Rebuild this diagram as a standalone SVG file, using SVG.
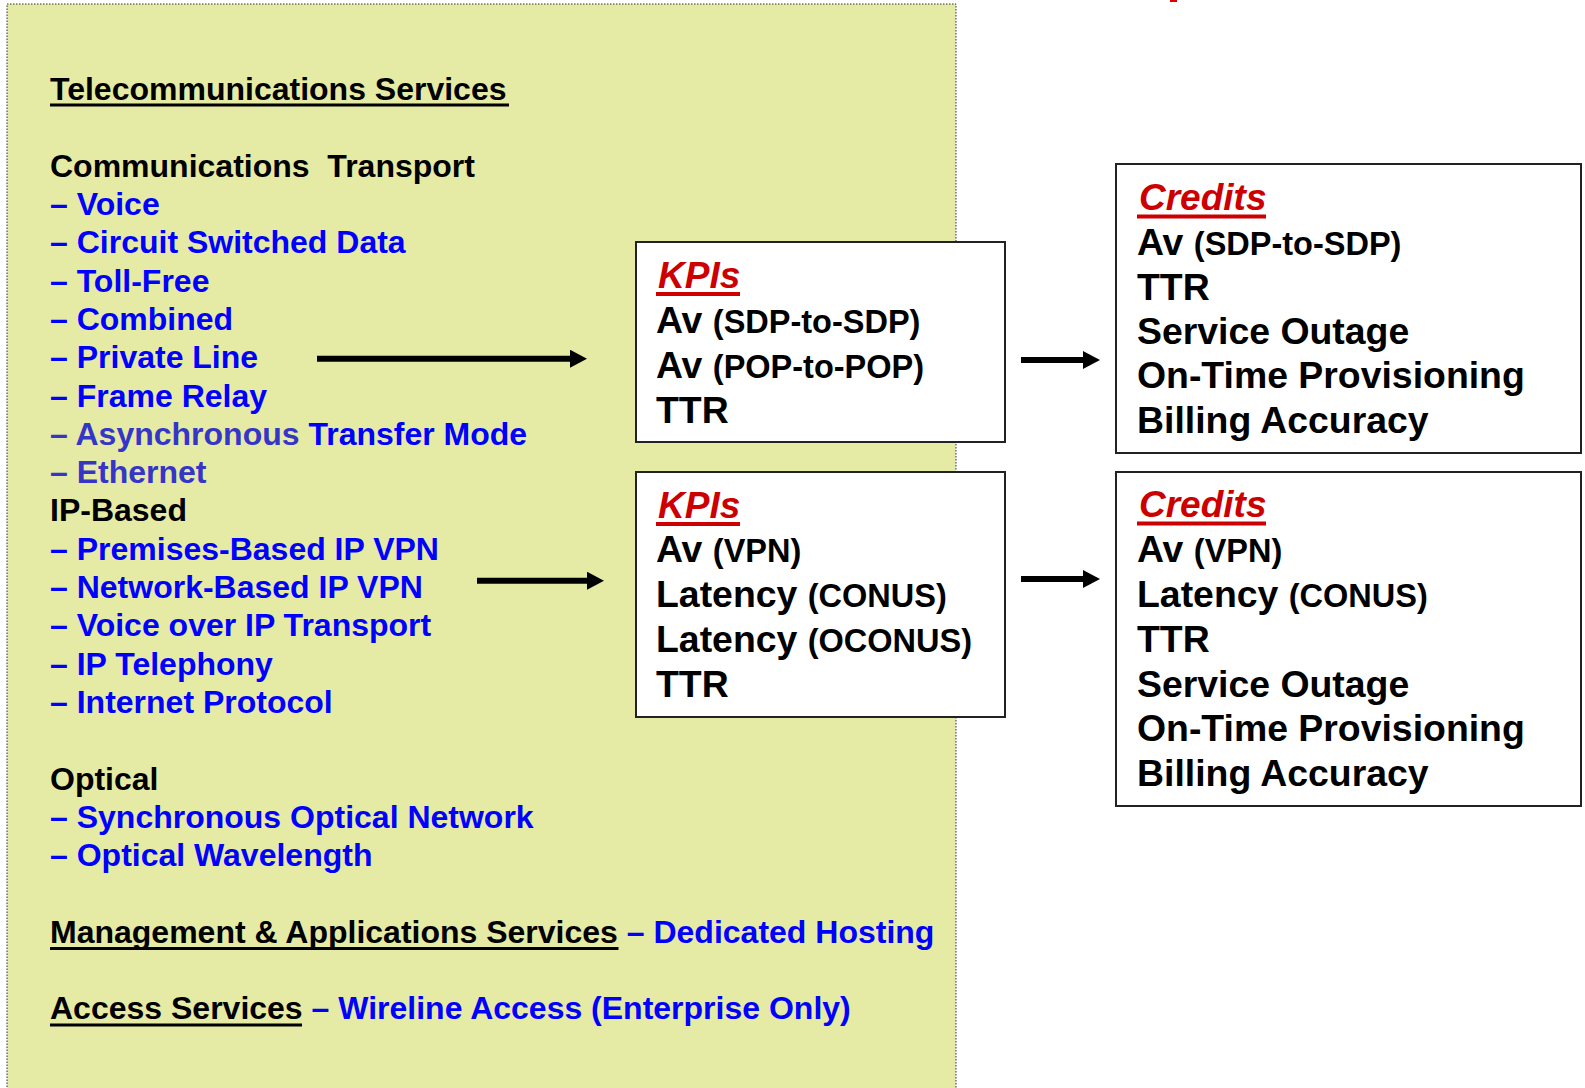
<svg xmlns="http://www.w3.org/2000/svg" width="1585" height="1088" viewBox="0 0 1585 1088">
<style>
text{font-family:"Liberation Sans",Arial,sans-serif;font-weight:bold}
.l{font-size:32px}
.k{fill:#000}
.b{fill:#0000FF}
.p{fill:#3535C8}
.ul{stroke:#000;stroke-width:3}
.rul{stroke:#CC0000;stroke-width:4}
.box{fill:#fff;stroke:#222;stroke-width:2}
.hd{font-size:37px;font-style:italic;fill:#CC0000}
.t{font-size:37.4px;fill:#000}
.s{font-size:32.5px}
.arr{stroke:#000;stroke-width:6;fill:none;marker-end:url(#ah)}
</style>
<defs>
<marker id="ah" markerUnits="userSpaceOnUse" markerWidth="17" markerHeight="18" refX="7" refY="9" orient="auto">
<path d="M0,0 L17,9 L0,18 z" fill="#000"/>
</marker>
</defs>
<rect x="1170" y="0" width="7" height="2" fill="#DD0000"/>
<g id="services">
<rect x="7" y="4" width="949" height="1100" fill="#E5EAA5" stroke="#333" stroke-width="1" stroke-dasharray="1.5,1.5"/>
<text class="l k" x="50" y="99.5">Telecommunications Services</text>
<line class="ul" x1="50" y1="105" x2="509" y2="105"/>
<text class="l k" x="50" y="176.7" xml:space="preserve">Communications  Transport</text>
<text class="l b" x="50" y="215">– Voice</text>
<text class="l b" x="50" y="253.3">– Circuit Switched Data</text>
<text class="l b" x="50" y="291.6">– Toll-Free</text>
<text class="l b" x="50" y="329.9">– Combined</text>
<text class="l b" x="50" y="368.2">– Private Line</text>
<text class="l b" x="50" y="406.5">– Frame Relay</text>
<text class="l b" x="50" y="444.8"><tspan class="p">– Asynchronous</tspan> Transfer Mode</text>
<text class="l p" x="50" y="483.1">– Ethernet</text>
<text class="l k" x="50" y="521.4">IP-Based</text>
<text class="l b" x="50" y="559.7">– Premises-Based IP VPN</text>
<text class="l b" x="50" y="598">– Network-Based IP VPN</text>
<text class="l b" x="50" y="636.3">– Voice over IP Transport</text>
<text class="l b" x="50" y="674.6">– IP Telephony</text>
<text class="l b" x="50" y="712.9">– Internet Protocol</text>
<text class="l k" x="50" y="789.5">Optical</text>
<text class="l b" x="50" y="827.8">– Synchronous Optical Network</text>
<text class="l b" x="50" y="866.1">– Optical Wavelength</text>
<text class="l k" x="50" y="942.7">Management &amp; Applications Services<tspan class="b"> – Dedicated Hosting</tspan></text>
<line class="ul" x1="50" y1="948.5" x2="618.5" y2="948.5"/>
<text class="l k" x="50" y="1019.3">Access Services<tspan class="b"> – Wireline Access (Enterprise Only)</tspan></text>
<line class="ul" x1="50" y1="1025" x2="302" y2="1025"/>
</g>
<g id="kpi1">
<rect class="box" x="636" y="242" width="369" height="200"/>
<text class="hd" x="658" y="288">KPIs</text>
<line class="rul" x1="656" y1="294" x2="740" y2="294"/>
<text class="t" x="656" y="333">Av <tspan class="s">(SDP-to-SDP)</tspan></text>
<text class="t" x="656" y="378">Av <tspan class="s">(POP-to-POP)</tspan></text>
<text class="t" x="656" y="423">TTR</text>
</g>
<g id="kpi2">
<rect class="box" x="636" y="472" width="369" height="245"/>
<text class="hd" x="658" y="518">KPIs</text>
<line class="rul" x1="656" y1="524" x2="740" y2="524"/>
<text class="t" x="656" y="562">Av <tspan class="s">(VPN)</tspan></text>
<text class="t" x="656" y="607">Latency <tspan class="s">(CONUS)</tspan></text>
<text class="t" x="656" y="652">Latency <tspan class="s">(OCONUS)</tspan></text>
<text class="t" x="656" y="697">TTR</text>
</g>
<g id="credits1">
<rect class="box" x="1116" y="164" width="465" height="289"/>
<text class="hd" x="1139" y="210">Credits</text>
<line class="rul" x1="1137" y1="216.5" x2="1266" y2="216.5"/>
<text class="t" x="1137" y="255">Av <tspan class="s">(SDP-to-SDP)</tspan></text>
<text class="t" x="1137" y="300">TTR</text>
<text class="t" x="1137" y="344">Service Outage</text>
<text class="t" x="1137" y="388">On-Time Provisioning</text>
<text class="t" x="1137" y="433">Billing Accuracy</text>
</g>
<g id="credits2">
<rect class="box" x="1116" y="472" width="465" height="334"/>
<text class="hd" x="1139" y="517">Credits</text>
<line class="rul" x1="1137" y1="523.5" x2="1266" y2="523.5"/>
<text class="t" x="1137" y="562">Av <tspan class="s">(VPN)</tspan></text>
<text class="t" x="1137" y="607">Latency <tspan class="s">(CONUS)</tspan></text>
<text class="t" x="1137" y="652">TTR</text>
<text class="t" x="1137" y="697">Service Outage</text>
<text class="t" x="1137" y="741">On-Time Provisioning</text>
<text class="t" x="1137" y="786">Billing Accuracy</text>
</g>
<g id="connectors">
<line class="arr" x1="317" y1="358.7" x2="577" y2="358.7"/>
<line class="arr" x1="1021" y1="360" x2="1090" y2="360"/>
<line class="arr" x1="477" y1="580.7" x2="594" y2="580.7"/>
<line class="arr" x1="1021" y1="579" x2="1090" y2="579"/>
</g>
</svg>
